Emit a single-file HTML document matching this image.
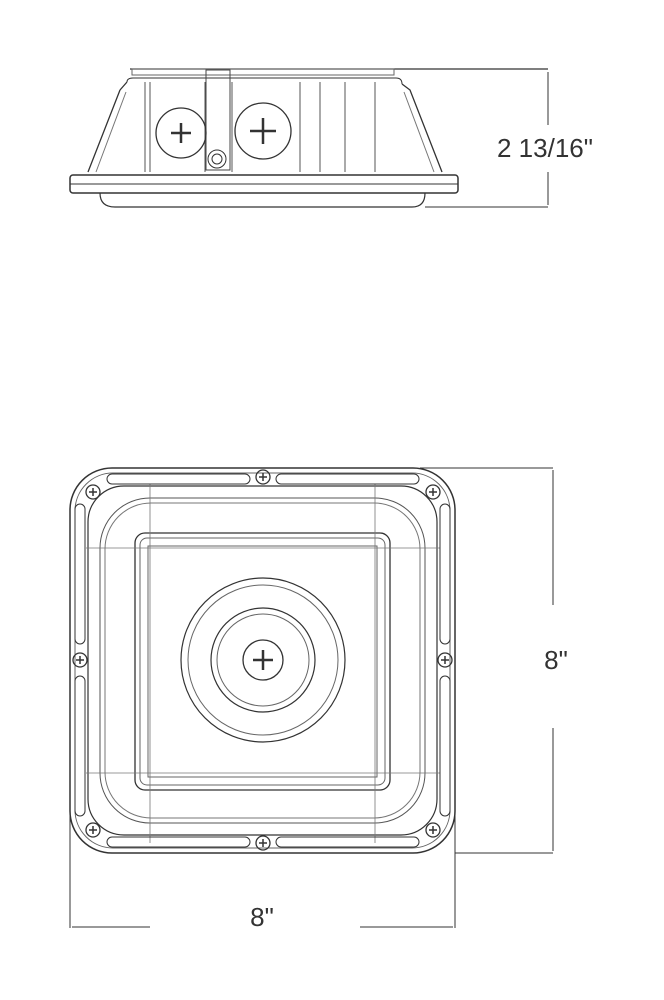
<!DOCTYPE html>
<html><head><style>body{margin:0;background:#fff}svg{display:block}</style></head><body>
<svg width="664" height="1000" viewBox="0 0 664 1000" xmlns="http://www.w3.org/2000/svg" fill="none" stroke="#333" stroke-width="1">
<defs>
<g id="scr"><circle r="7" stroke-width="1.3"/><path d="M-4 0H4M0 -4V4" stroke-width="1.5"/></g>
</defs>
<!-- TOP VIEW -->
<g>
<line x1="130" y1="69" x2="548" y2="69" stroke-width="1.3"/>
<rect x="132" y="69" width="262" height="6" stroke="#666"/>
<path d="M127 82 Q127 78 133 78 H396 Q402 78 402 84" />
<path d="M120 90 L88 172 M127 82 L120 90 M402 84 L410 90 L442 172" stroke-width="1.3"/>
<path d="M126 92 L96 172 M404 92 L434 172" stroke="#777"/>
<path d="M145 82 V172 M150 82 V172 M205 82 V172 M232 82 V172 M300 82 V172 M320 82 V172 M345 82 V172 M375 82 V172" stroke="#555"/>
<rect x="206" y="70" width="24" height="100" stroke="#444"/>
<circle cx="181" cy="133" r="25" stroke-width="1.3"/>
<path d="M171 133H191M181 123V143" stroke-width="2.5"/>
<circle cx="263" cy="131" r="28" stroke-width="1.3"/>
<path d="M250 131H276M263 118V144" stroke-width="2.5"/>
<circle cx="217" cy="159" r="9"/><circle cx="217" cy="159" r="5"/>
<rect x="70" y="175" width="388" height="18" rx="3" stroke-width="1.5"/>
<line x1="70" y1="184" x2="458" y2="184"/>
<path d="M100 193 Q100 207 115 207 H412 Q425 207 425 193" stroke-width="1.2"/>
<line x1="425" y1="207" x2="548" y2="207"/>
<line x1="548" y1="72" x2="548" y2="125"/>
<line x1="548" y1="172" x2="548" y2="205"/>
</g>
<text x="545" y="157" font-family="Liberation Sans, sans-serif" font-size="26" fill="#333" stroke="none" text-anchor="middle">2 13/16"</text>
<!-- BOTTOM VIEW -->
<g>
<rect x="70" y="468" width="385" height="385" rx="42" stroke-width="1.5"/>
<rect x="75" y="473" width="375" height="375" rx="38" stroke="#666"/>
<rect x="88" y="486" width="349" height="349" rx="36" stroke-width="1.2"/>
<rect x="100" y="498" width="325" height="325" rx="50" stroke="#555"/>
<rect x="105" y="503" width="315" height="315" rx="46" stroke="#777"/>
<rect x="135" y="533" width="255" height="257" rx="10" stroke-width="1.3"/>
<rect x="140" y="538" width="245" height="247" rx="7" stroke="#666"/>
<rect x="148" y="546" width="229" height="231" stroke="#666"/>
<path d="M150 484 V843 M375 484 V843 M86 548 H440 M86 773 H440" stroke="#777" stroke-width=".8"/>
<rect x="107" y="474" width="143" height="10" rx="5"/>
<rect x="276" y="474" width="143" height="10" rx="5"/>
<rect x="107" y="837" width="143" height="10" rx="5"/>
<rect x="276" y="837" width="143" height="10" rx="5"/>
<rect x="75" y="504" width="10" height="140" rx="5"/>
<rect x="75" y="676" width="10" height="140" rx="5"/>
<rect x="440" y="504" width="10" height="140" rx="5"/>
<rect x="440" y="676" width="10" height="140" rx="5"/>
<use href="#scr" x="93" y="492"/><use href="#scr" x="433" y="492"/>
<use href="#scr" x="93" y="830"/><use href="#scr" x="433" y="830"/>
<use href="#scr" x="263" y="477"/><use href="#scr" x="263" y="843"/>
<use href="#scr" x="80" y="660"/><use href="#scr" x="445" y="660"/>
<circle cx="263" cy="660" r="82" stroke-width="1.2"/>
<circle cx="263" cy="660" r="75" stroke="#666"/>
<circle cx="263" cy="660" r="52" stroke-width="1.2"/>
<circle cx="263" cy="660" r="46" stroke="#666"/>
<circle cx="263" cy="660" r="20" stroke-width="1.3"/>
<path d="M253 660H273M263 650V670" stroke-width="2.5"/>
<line x1="420" y1="468" x2="553" y2="468"/>
<line x1="455" y1="853" x2="553" y2="853"/>
<line x1="553" y1="470" x2="553" y2="605"/>
<line x1="553" y1="728" x2="553" y2="851"/>
<line x1="70" y1="810" x2="70" y2="928"/>
<line x1="455" y1="803" x2="455" y2="928"/>
<line x1="72" y1="927" x2="150" y2="927"/>
<line x1="360" y1="927" x2="453" y2="927"/>
</g>
<text x="556" y="669" font-family="Liberation Sans, sans-serif" font-size="26" fill="#333" stroke="none" text-anchor="middle">8"</text>
<text x="262" y="926" font-family="Liberation Sans, sans-serif" font-size="26" fill="#333" stroke="none" text-anchor="middle">8"</text>
</svg>
</body></html>
